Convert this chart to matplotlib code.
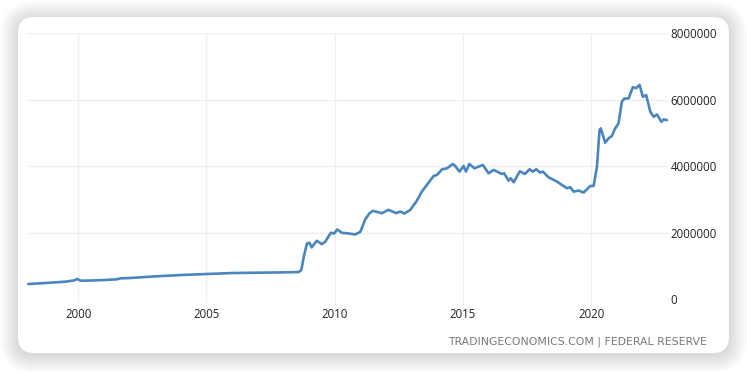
import matplotlib.pyplot as plt
from matplotlib.patches import FancyBboxPatch

# data
years = [1998.05, 1998.5, 1999.0, 1999.5, 1999.85, 1999.95, 2000.1, 2000.5, 2001.0, 2001.5,
         2001.65, 2002.0, 2003.0, 2004.0, 2005.0, 2006.0, 2007.0, 2008.0, 2008.6, 2008.7,
         2008.8, 2008.92, 2009.02, 2009.1, 2009.3, 2009.5, 2009.63, 2009.85, 2009.98, 2010.1,
         2010.28, 2010.54, 2010.8, 2011.0, 2011.19, 2011.35, 2011.49, 2011.84, 2012.1, 2012.4,
         2012.56, 2012.72, 2012.95, 2013.2, 2013.4, 2013.86, 2013.99, 2014.19, 2014.38, 2014.61,
         2014.7, 2014.87, 2015.03, 2015.12, 2015.25, 2015.45, 2015.78, 2016.0, 2016.2, 2016.52,
         2016.61, 2016.78, 2016.87, 2016.98, 2017.22, 2017.42, 2017.6, 2017.73, 2017.86, 2018.02,
         2018.12, 2018.34, 2018.67, 2018.86, 2019.06, 2019.19, 2019.32, 2019.51, 2019.71, 2019.97,
         2020.1, 2020.23, 2020.33, 2020.38, 2020.55, 2020.68, 2020.81, 2020.94, 2021.07, 2021.2,
         2021.3, 2021.46, 2021.63, 2021.76, 2021.89, 2022.02, 2022.15, 2022.31, 2022.44, 2022.57,
         2022.74, 2022.83, 2022.96]
values = [460000, 480000, 505000, 530000, 570000, 610000, 560000, 565000, 580000, 600000,
          630000, 640000, 690000, 730000, 760000, 790000, 800000, 810000, 820000, 880000,
          1300000, 1680000, 1700000, 1560000, 1760000, 1660000, 1730000, 2000000, 1980000, 2100000,
          2000000, 1980000, 1950000, 2030000, 2400000, 2580000, 2660000, 2590000, 2690000, 2590000,
          2640000, 2580000, 2690000, 2960000, 3240000, 3710000, 3740000, 3910000, 3940000, 4070000,
          4010000, 3840000, 4010000, 3840000, 4070000, 3940000, 4040000, 3790000, 3890000, 3770000,
          3790000, 3570000, 3640000, 3520000, 3850000, 3770000, 3910000, 3840000, 3910000, 3810000,
          3840000, 3670000, 3540000, 3440000, 3340000, 3370000, 3240000, 3270000, 3210000, 3410000,
          3410000, 3990000, 5090000, 5140000, 4710000, 4840000, 4910000, 5140000, 5290000, 5940000,
          6040000, 6040000, 6380000, 6350000, 6450000, 6090000, 6140000, 5640000, 5490000, 5560000,
          5340000, 5410000, 5390000]

xticks = [2000, 2005, 2010, 2015, 2020]
yticks = [0, 2000000, 4000000, 6000000, 8000000]
source = "TRADINGECONOMICS.COM | FEDERAL RESERVE"

W, H = 747, 373
fig = plt.figure(figsize=(W / 100, H / 100), dpi=100)

# background card with soft shadow, in pixel units
bg = fig.add_axes([0, 0, 1, 1], zorder=0)
bg.set_xlim(0, W)
bg.set_ylim(H, 0)
bg.axis("off")
for i in range(18, 0, -1):
    bg.add_patch(FancyBboxPatch((18 - i, 17 - i + 2), 711 + 2 * i, 336 + 2 * i,
                                boxstyle=f"round,pad=0,rounding_size={16 + i}",
                                fc="black", ec="none", alpha=0.009))
bg.add_patch(FancyBboxPatch((18, 17), 711, 336, boxstyle="round,pad=0,rounding_size=16",
                            fc="white", ec="none"))
bg.text(707, 342, source, ha="right", va="center", fontsize=7.8, color="#777777",
        family="DejaVu Sans")

ax = fig.add_axes([27 / W, (H - 299.3) / H, 641 / W, 266 / H], zorder=1)
ax.patch.set_alpha(0)
ax.plot(years, values, color="#4a86bd", lw=1.9, solid_capstyle="round", solid_joinstyle="round")
ax.set_xlim(1998.0, 2023.0)
ax.set_ylim(0, 8000000)
ax.set_xticks(xticks)
ax.set_yticks(yticks)
ax.set_yticklabels([str(v) for v in yticks])
ax.yaxis.tick_right()
ax.grid(True, color="#efefef", lw=0.9)
for s in ax.spines.values():
    s.set_visible(False)
ax.tick_params(axis="y", length=0, pad=2, labelsize=8.3, labelcolor="#222222")
ax.tick_params(axis="x", length=4, color="#efefef", pad=2, labelsize=8.3, labelcolor="#222222")
for lab in ax.get_xticklabels() + ax.get_yticklabels():
    lab.set_family("Open Sans")

fig.savefig("out.png", dpi=100)
